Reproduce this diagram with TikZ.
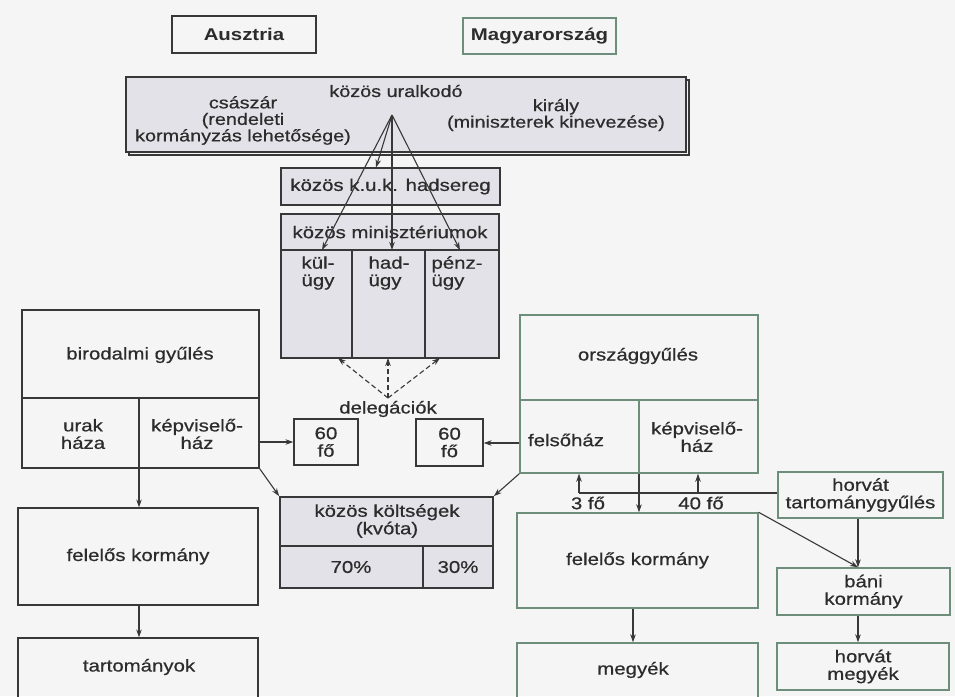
\documentclass[tikz,border=0pt]{standalone}
\usepackage{fontspec}
\setmainfont{Liberation Sans}[FakeStretch=1.2, FakeBold=0.6]
\newfontfamily\titlefont{Liberation Sans}[FakeStretch=1.2]
\usetikzlibrary{arrows.meta}
\definecolor{dk}{HTML}{383838}
\definecolor{txt}{HTML}{2C2C2C}
\definecolor{grn}{HTML}{6E8E7C}
\definecolor{cg}{HTML}{E2E2E8}
\definecolor{bg}{HTML}{F5F5F5}
\begin{document}
\begin{tikzpicture}[x=1pt,y=-1pt,
  every node/.style={font=\fontsize{17}{17.5}\selectfont, text=txt, align=center},
  lbl/.style={inner sep=0pt},
  small/.style={font=\fontsize{16.5}{16.5}\selectfont},
  title/.style={font=\titlefont\fontsize{17}{19}\selectfont\bfseries},
  abox/.style={draw=dk, line width=1.3pt, inner sep=0pt},
  hbox/.style={draw=grn, line width=1.4pt, inner sep=0pt},
  cbox/.style={draw=dk, line width=1.7pt, fill=cg, inner sep=0pt},
  arr/.style={draw=dk, line width=1.1pt, -{Stealth[length=8pt,width=5.5pt]}},
  ln/.style={draw=dk, line width=1.1pt},
  gln/.style={draw=grn, line width=1.3pt},
  darr/.style={arr, dash pattern=on 5pt off 3pt},
]
\useasboundingbox[fill=bg] (0,0) rectangle (955,696);
\clip (0,0) rectangle (955,696);

% top titles
\node[abox, minimum width=144pt, minimum height=37pt, title] (aus) at (244,34.5) {Ausztria};
\node[hbox, minimum width=153pt, minimum height=36pt, title] (mag) at (539.5,36) {Magyarország};

% common ruler
\draw[dk, line width=1.7pt] (129,80) rectangle (689,155);
\node[cbox, minimum width=560pt, minimum height=75pt] (ural) at (406,114.5) {};
\node[lbl, small] (uralT) at (396,91) {közös uralkodó};
\node[lbl, small] (csaszar) at (243,120.5) {császár\\(rendeleti\\kormányzás lehetősége)};
\node[lbl, small] (kiraly) at (556,115) {király\\(miniszterek kinevezése)};
\coordinate (apex) at (392,115);

% army and ministries
\node[cbox, minimum width=219pt, minimum height=37pt] (had) at (390.5,186.5) {közös k.u.k. hadsereg};
\node[cbox, minimum width=218pt, minimum height=144pt] (min) at (390,286) {};
\coordinate (minH) at (0,250);
\draw[ln] (min.west |- minH) -- (min.east |- minH);
\coordinate (md1) at (352,250);
\coordinate (md2) at (425,250);
\draw[ln] (md1) -- (md1 |- min.south);
\draw[ln] (md2) -- (md2 |- min.south);
\node[lbl] (minT) at (390,232) {közös minisztériumok};
\node[lbl, align=left] (kul) at (318,273) {kül-\\ügy};
\node[lbl, align=left] (hadu) at (389,273) {had-\\ügy};
\node[lbl, align=left] (penz) at (457,273) {pénz-\\ügy};
\coordinate (kulT) at (322,250);
\coordinate (haduT) at (392,250);
\coordinate (penzT) at (460,250);
\coordinate (hadT) at (376,167.5);
\draw[arr] (apex) -- (kulT);
\draw[arr] (apex) -- (hadT);
\draw[arr] (apex) -- (haduT);
\draw[arr] (apex) -- (penzT);

% delegations
\node[lbl] (deleg) at (388,409) {delegációk};
\coordinate (delS) at (388,398);
\coordinate (dt1) at (338,358);
\coordinate (dt2) at (388,358);
\coordinate (dt3) at (440,358);
\draw[darr] (delS) -- (dt1);
\draw[darr] (delS) -- (dt2);
\draw[darr] (delS) -- (dt3);
\node[abox, minimum width=64pt, minimum height=46pt] (d60L) at (326,442) {60\\fő};
\node[abox, minimum width=67pt, minimum height=47pt] (d60R) at (449.5,442.5) {60\\fő};

% Austria side
\node[abox, minimum width=237pt, minimum height=158pt] (birod) at (140.5,389) {};
\coordinate (bH) at (0,398);
\coordinate (bV) at (139,398);
\draw[ln] (birod.west |- bH) -- (birod.east |- bH);
\draw[ln] (bV) -- (bV |- birod.south);
\node[lbl] (birodT) at (140,355) {birodalmi gyűlés};
\node[lbl] (urak) at (83,434) {urak\\háza};
\node[lbl] (kepvA) at (197,434) {képviselő-\\ház};
\node[abox, minimum width=240pt, minimum height=97pt] (felL) at (138,556.5) {felelős kormány};
\node[abox, minimum width=240pt, minimum height=64pt] (tart) at (138,670) {};
\node[lbl] (tartT) at (139,667) {tartományok};
\draw[arr] (bV |- birod.south) -- (bV |- felL.north);
\draw[arr] (bV |- felL.south) -- (bV |- tart.north);
\coordinate (yL) at (0,442);
\draw[arr] (birod.east |- yL) -- (d60L.west |- yL);

% common costs
\node[cbox, minimum width=213pt, minimum height=91pt] (kolt) at (386.5,542.5) {};
\coordinate (kH) at (0,546);
\coordinate (kV) at (423,546);
\draw[ln] (kolt.west |- kH) -- (kolt.east |- kH);
\draw[ln] (kV) -- (kV |- kolt.south);
\node[lbl] (koltT) at (387,521) {közös költségek\\(kvóta)};
\node[lbl] (p70) at (351,567) {70\%};
\node[lbl] (p30) at (458,567) {30\%};
\draw[arr] (birod.south east) -- (kolt.north west);

% Hungary side
\node[hbox, minimum width=238pt, minimum height=158pt] (orsz) at (639,394) {};
\coordinate (oH) at (0,400);
\coordinate (oV) at (639,400);
\draw[gln] (orsz.west |- oH) -- (orsz.east |- oH);
\draw[gln] (oV) -- (oV |- orsz.south);
\node[lbl] (orszT) at (638,356) {országgyűlés};
\node[lbl] (felso) at (566,440) {felsőház};
\node[lbl] (kepvM) at (697,437) {képviselő-\\ház};
\coordinate (yR) at (0,443);
\draw[arr] (orsz.west |- yR) -- (d60R.east |- yR);
\draw[arr] (orsz.south west) -- (kolt.north east);

\node[hbox, minimum width=165pt, minimum height=46pt] (horT) at (860.5,495) {horvát\\tartománygyűlés};
\coordinate (j3) at (579,493);
\coordinate (j40) at (698,493);
\draw[ln] (horT.west |- j3) -- (j3);
\draw[arr] (j3) -- (j3 |- orsz.south);
\draw[arr] (j40) -- (j40 |- orsz.south);
\node[lbl] (f3) at (588,503) {3 fő};
\node[lbl] (f40) at (701,503) {40 fő};

\node[hbox, minimum width=241pt, minimum height=95pt] (felR) at (637.5,560.5) {felelős kormány};
\draw[arr] (oV |- orsz.south) -- (oV |- felR.north);
\node[hbox, minimum width=241pt, minimum height=59pt] (megy) at (637.5,672.5) {};
\node[lbl] (megyT) at (633,670) {megyék};
\coordinate (mV) at (633,0);
\draw[arr] (mV |- felR.south) -- (mV |- megy.north);

\node[hbox, minimum width=173pt, minimum height=47pt] (bani) at (863.5,591.5) {báni\\kormány};
\node[hbox, minimum width=172pt, minimum height=47pt] (horM) at (863,666.5) {horvát\\megyék};
\coordinate (bX) at (858,0);
\coordinate (baniT) at (bX |- bani.north);
\draw[arr] (bX |- horT.south) -- (baniT);
\draw[arr] (felR.north east) -- (baniT);
\draw[arr] (bX |- bani.south) -- (bX |- horM.north);
\end{tikzpicture}
\end{document}
